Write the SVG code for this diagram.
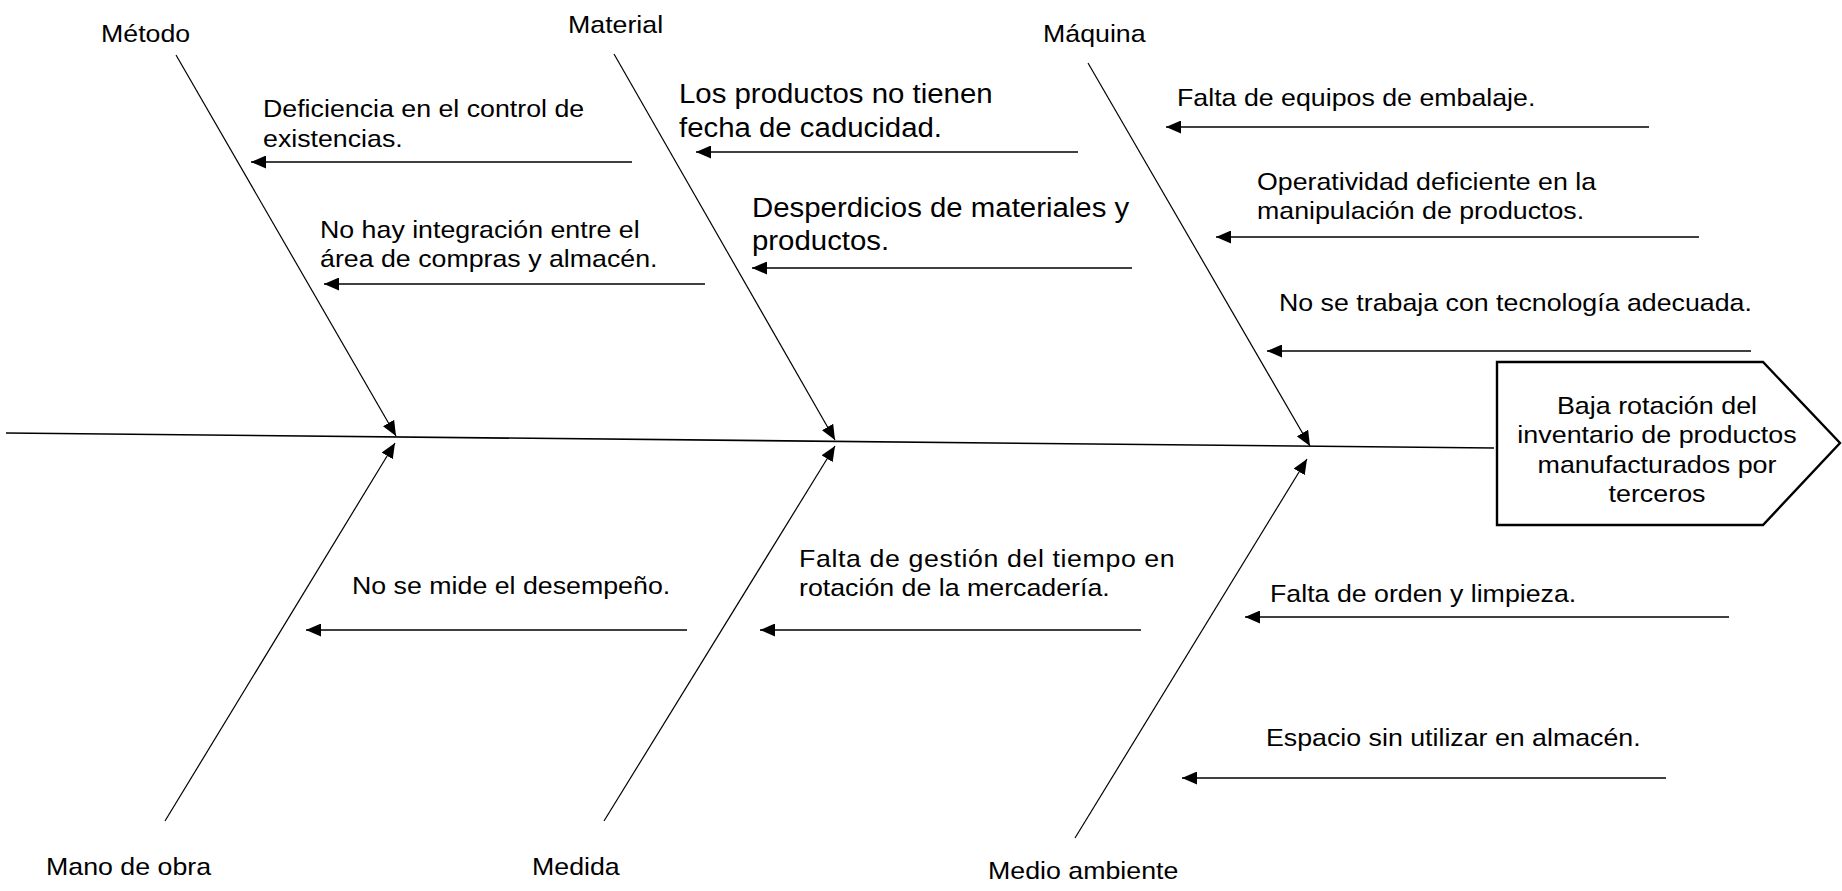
<svg xmlns="http://www.w3.org/2000/svg" width="1842" height="891" viewBox="0 0 1842 891">
<style>
.t { font-family: "Liberation Sans", Arial, sans-serif; font-size: 24px; fill: #000; }
.big { font-size: 28px; }
.bone { stroke: #000; stroke-width: 1.2; fill: none; }
.arr { stroke: #000; stroke-width: 1.6; fill: none; }
.spine { stroke: #000; stroke-width: 1.6; fill: none; }
.head { stroke: #000; stroke-width: 2.4; fill: #fff; }
</style>
<defs>
<marker id="ah" markerUnits="userSpaceOnUse" markerWidth="16" markerHeight="13" refX="15" refY="6.5" orient="auto">
<path d="M0,0 L15,6.5 L0,13 z" fill="#000"/>
</marker>
</defs>
<rect width="1842" height="891" fill="#fff"/>

<g id="connectors">
<line class="spine" x1="6" y1="433" x2="1494" y2="448"/>
<line class="bone" x1="176" y1="55" x2="396" y2="436" marker-end="url(#ah)"/>
<line class="bone" x1="614" y1="54" x2="835" y2="440" marker-end="url(#ah)"/>
<line class="bone" x1="1088" y1="63" x2="1310" y2="446" marker-end="url(#ah)"/>
<line class="bone" x1="165" y1="821" x2="395" y2="443" marker-end="url(#ah)"/>
<line class="bone" x1="604" y1="821" x2="835" y2="446" marker-end="url(#ah)"/>
<line class="bone" x1="1075" y1="838" x2="1307" y2="459" marker-end="url(#ah)"/>
<line class="arr" x1="632" y1="162" x2="251" y2="162" marker-end="url(#ah)"/>
<line class="arr" x1="705" y1="284" x2="324" y2="284" marker-end="url(#ah)"/>
<line class="arr" x1="1078" y1="152" x2="696" y2="152" marker-end="url(#ah)"/>
<line class="arr" x1="1132" y1="268" x2="752" y2="268" marker-end="url(#ah)"/>
<line class="arr" x1="1649" y1="127" x2="1166" y2="127" marker-end="url(#ah)"/>
<line class="arr" x1="1699" y1="237" x2="1216" y2="237" marker-end="url(#ah)"/>
<line class="arr" x1="1751" y1="351" x2="1267" y2="351" marker-end="url(#ah)"/>
<line class="arr" x1="687" y1="630" x2="306" y2="630" marker-end="url(#ah)"/>
<line class="arr" x1="1141" y1="630" x2="760" y2="630" marker-end="url(#ah)"/>
<line class="arr" x1="1729" y1="617" x2="1245" y2="617" marker-end="url(#ah)"/>
<line class="arr" x1="1666" y1="778" x2="1182" y2="778" marker-end="url(#ah)"/>
</g>

<g id="effect">
<polygon class="head" points="1497,362 1763,362 1840,443 1763,525 1497,525"/>
<text class="t" text-anchor="middle" transform="translate(1657 414) scale(1.12 1)"><tspan x="0" y="0">Baja rotación del</tspan><tspan x="0" y="29.3">inventario de productos</tspan><tspan x="0" y="58.6">manufacturados por</tspan><tspan x="0" y="88">terceros</tspan></text>
</g>

<g id="metodo">
<text class="t" transform="translate(101 42) scale(1.115 1)">Método</text>
<text class="t" transform="translate(263 117.3) scale(1.115 1)"><tspan x="0" y="0">Deficiencia en el control de</tspan><tspan x="0" y="29.4">existencias.</tspan></text>
<text class="t" transform="translate(320 238) scale(1.115 1)"><tspan x="0" y="0">No hay integración entre el</tspan><tspan x="0" y="29.4">área de compras y almacén.</tspan></text>
</g>

<g id="material">
<text class="t" transform="translate(568 33) scale(1.115 1)">Material</text>
<text class="t big" transform="translate(679 103.3) scale(1.05 1)"><tspan x="0" y="0">Los productos no tienen</tspan><tspan x="0" y="33.4">fecha de caducidad.</tspan></text>
<text class="t big" transform="translate(752 216.7) scale(1.05 1)"><tspan x="0" y="0">Desperdicios de materiales y</tspan><tspan x="0" y="33.4">productos.</tspan></text>
</g>

<g id="maquina">
<text class="t" transform="translate(1043 42) scale(1.115 1)">Máquina</text>
<text class="t" transform="translate(1177 106) scale(1.115 1)">Falta de equipos de embalaje.</text>
<text class="t" transform="translate(1257 190) scale(1.115 1)"><tspan x="0" y="0">Operatividad deficiente en la</tspan><tspan x="0" y="29.4">manipulación de productos.</tspan></text>
<text class="t" transform="translate(1279 311) scale(1.115 1)">No se trabaja con tecnología adecuada.</text>
</g>

<g id="mano-de-obra">
<text class="t" transform="translate(46 875) scale(1.115 1)">Mano de obra</text>
<text class="t" transform="translate(352 594) scale(1.115 1)">No se mide el desempeño.</text>
</g>

<g id="medida">
<text class="t" transform="translate(532 875) scale(1.115 1)">Medida</text>
<text class="t" transform="translate(799 567) scale(1.115 1)"><tspan x="0" y="0" textLength="337" lengthAdjust="spacing">Falta de gestión del tiempo en</tspan><tspan x="0" y="29.4">rotación de la mercadería.</tspan></text>
</g>

<g id="medio-ambiente">
<text class="t" transform="translate(988 879) scale(1.115 1)">Medio ambiente</text>
<text class="t" transform="translate(1270 602) scale(1.115 1)">Falta de orden y limpieza.</text>
<text class="t" transform="translate(1266 746) scale(1.115 1)">Espacio sin utilizar en almacén.</text>
</g>
</svg>
